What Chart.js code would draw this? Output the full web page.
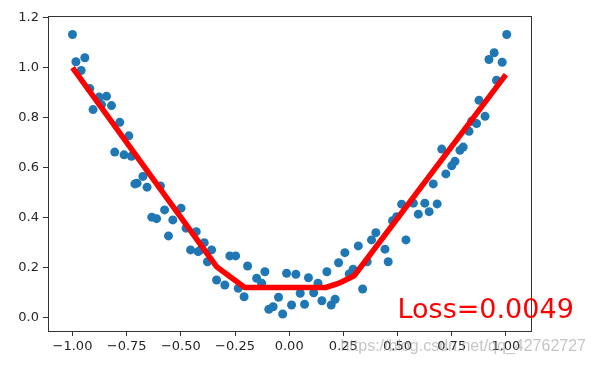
<!DOCTYPE html>
<html>
<head>
<meta charset="utf-8">
<script src="https://cdn.jsdelivr.net/npm/chart.js@4.4.1/dist/chart.umd.min.js"></script>
<style>
  html, body { margin: 0; padding: 0; background: #fff; }
  #wrap { width: 596px; height: 366px; position: relative; }
</style>
</head>
<body>
<div id="wrap"><canvas id="c" width="596" height="366"></canvas></div>
<script>
// Scatter samples (x, y)
const scatterX = [-1.000,-0.984,-0.943,-0.960,-0.920,-0.905,-0.877,-0.866,-0.843,-0.820,-0.782,-0.740,-0.805,-0.762,-0.728,
  -0.675,-0.702,-0.712,-0.656,-0.594,-0.575,-0.499,-0.634,-0.612,-0.537,-0.557,-0.476,-0.429,-0.455,-0.409,
  -0.392,-0.420,-0.358,-0.377,-0.274,-0.247,-0.192,-0.335,-0.297,-0.235,-0.208,-0.150,-0.112,-0.127,-0.094,-0.074,-0.030,-0.049,0.011,-0.012,0.031,
  0.089,0.174,0.133,0.228,0.051,0.113,0.071,0.151,0.194,0.212,
  0.257,0.277,0.295,0.319,0.339,0.360,0.380,0.400,0.442,0.457,0.477,0.496,0.519,0.539,0.573,0.596,0.626,0.646,0.665,0.683,0.704,0.723,0.750,0.765,0.788,0.803,0.830,0.842,0.865,0.876,0.904,0.922,0.946,0.957,0.983,1.004];
const scatterY = [1.132,1.023,1.039,0.988,0.916,0.832,0.882,0.852,0.885,0.848,0.781,0.727,0.662,0.651,0.645,
  0.565,0.538,0.535,0.522,0.527,0.431,0.438,0.402,0.396,0.391,0.327,0.358,0.344,0.271,0.271,
  0.300,0.264,0.271,0.224,0.247,0.247,0.207,0.151,0.131,0.118,0.084,0.158,0.184,0.138,0.034,0.044,0.015,0.082,0.051,0.178,0.174,
  0.160,0.184,0.138,0.220,0.098,0.100,0.054,0.068,0.051,0.074,
  0.260,0.175,0.194,0.287,0.115,0.224,0.311,0.340,0.274,0.224,0.388,0.404,0.454,0.311,0.458,0.414,0.458,0.424,0.535,0.455,0.674,0.575,0.607,0.625,0.669,0.682,0.745,0.785,0.776,0.869,0.805,1.032,1.059,0.949,1.021,1.132];

// Fitted prediction line
const fitX = [-1.0, -0.335, -0.205, 0.17, 0.23, 0.30, 1.0];
const fitY = [1.0, 0.204, 0.121, 0.121, 0.138, 0.168, 0.972];

// Tick labels
const xTicks = [-1.00, -0.75, -0.50, -0.25, 0.00, 0.25, 0.50, 0.75, 1.00];
const yTicks = [0.0, 0.2, 0.4, 0.6, 0.8, 1.0, 1.2];

// Annotation
const lossLabel = 'Loss=0.0049';
const lossPos = [0.5, 0.0];
const watermark = 'https://blog.csdn.net/qq_42762727';

const scatterData = scatterX.map((x, i) => ({ x: x, y: scatterY[i] }));
const fitData = fitX.map((x, i) => ({ x: x, y: fitY[i] }));

const fmtMinus = s => s.replace('-', '\u2212');

const framePlugin = {
  id: 'frame',
  afterDatasetsDraw(chart) {
    const { ctx, chartArea: a, scales } = chart;
    ctx.save();
    ctx.strokeStyle = '#333';
    ctx.lineWidth = 1;
    ctx.strokeRect(Math.round(a.left) + 0.5, Math.round(a.top) + 0.5,
                   Math.round(a.right - a.left), Math.round(a.bottom - a.top));
    ctx.fillStyle = '#ff0000';
    ctx.font = '27px "DejaVu Sans"';
    ctx.textAlign = 'left';
    ctx.textBaseline = 'alphabetic';
    ctx.fillText(lossLabel, scales.x.getPixelForValue(lossPos[0]), scales.y.getPixelForValue(lossPos[1]));
    ctx.restore();
  },
  afterDraw(chart) {
    const { ctx } = chart;
    ctx.save();
    ctx.fillStyle = 'rgba(150,150,150,0.55)';
    ctx.font = '16px "Liberation Sans"';
    ctx.textAlign = 'right';
    ctx.textBaseline = 'middle';
    ctx.fillText(watermark, 586, 347);
    ctx.restore();
  }
};

new Chart(document.getElementById('c'), {
  type: 'scatter',
  data: {
    datasets: [
      {
        label: 'fit',
        data: fitData,
        showLine: true,
        borderColor: '#ff0000',
        borderWidth: 5.5,
        pointRadius: 0,
        fill: false,
        tension: 0,
        order: 0
      },
      {
        label: 'data',
        data: scatterData,
        backgroundColor: '#1f77b4',
        borderColor: '#1f77b4',
        borderWidth: 0,
        pointRadius: 4.5,
        order: 1
      }
    ]
  },
  plugins: [framePlugin],
  options: {
    responsive: false,
    animation: false,
    events: [],
    layout: { padding: { top: 16, right: 65, left: 0, bottom: 0 } },
    plugins: { legend: { display: false }, tooltip: { enabled: false } },
    scales: {
      x: {
        type: 'linear',
        min: -1.113,
        max: 1.116,
        afterBuildTicks: s => { s.ticks = xTicks.map(v => ({ value: v })); },
        afterFit: s => { s.height = 35; },
        grid: { display: true, drawOnChartArea: false, drawTicks: true, tickLength: 5, color: '#333', lineWidth: 1 },
        border: { display: true, color: '#333', width: 1 },
        ticks: {
          color: '#262626',
          font: { family: 'DejaVu Sans', size: 13 },
          padding: 3,
          maxRotation: 0,
          autoSkip: false,
          callback: v => fmtMinus(Number(v).toFixed(2))
        }
      },
      y: {
        type: 'linear',
        min: -0.053,
        max: 1.206,
        afterBuildTicks: s => { s.ticks = yTicks.map(v => ({ value: v })); },
        afterFit: s => { s.width = 48; },
        grid: { display: true, drawOnChartArea: false, drawTicks: true, tickLength: 5, color: '#333', lineWidth: 1 },
        border: { display: true, color: '#333', width: 1 },
        ticks: {
          color: '#262626',
          font: { family: 'DejaVu Sans', size: 13 },
          padding: 4,
          autoSkip: false,
          callback: v => fmtMinus(Number(v).toFixed(1))
        }
      }
    }
  }
});
</script>
</body>
</html>
